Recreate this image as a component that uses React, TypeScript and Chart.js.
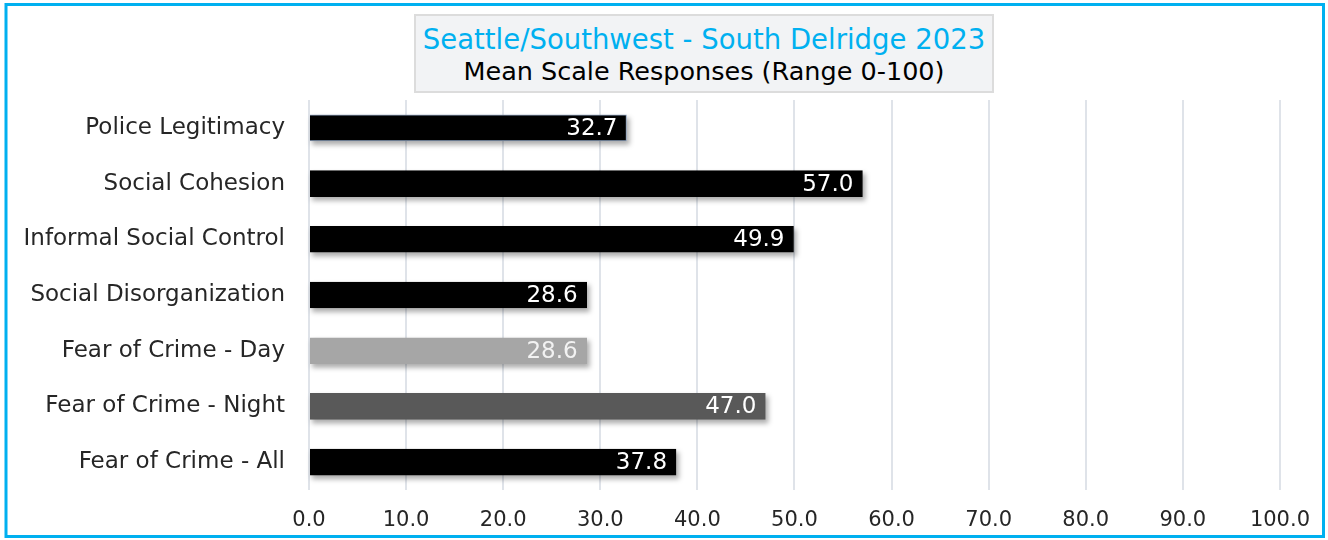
import React, { useEffect, useRef } from "react";
import { Chart, registerables } from "chart.js";

Chart.register(...registerables);

const categories = [
  "Police Legitimacy",
  "Social Cohesion",
  "Informal Social Control",
  "Social Disorganization",
  "Fear of Crime - Day",
  "Fear of Crime - Night",
  "Fear of Crime - All",
];
const values = [32.7, 57.0, 49.9, 28.6, 28.6, 47.0, 37.8];
const barColors = ["#000000", "#000000", "#000000", "#000000", "#A6A6A6", "#595959", "#000000"];
const borderColors = ["#8EA3BF", "#000000", "#000000", "#000000", "#A6A6A6", "#595959", "#000000"];
const labelColors = ["#FFFFFF", "#FFFFFF", "#FFFFFF", "#FFFFFF", "#F2F2F2", "#FFFFFF", "#FFFFFF"];
const titleLine1 = "Seattle/Southwest - South Delridge 2023";
const titleLine2 = "Mean Scale Responses (Range 0-100)";

const FONT = "'DejaVu Sans', sans-serif";

const framePlugin = {
  id: "frame",
  afterDraw(chart: any) {
    const ctx = chart.ctx;
    ctx.save();
    ctx.strokeStyle = "#00B0F0";
    ctx.lineWidth = 3;
    ctx.strokeRect(6, 4.5, 1317.5, 532);
    ctx.restore();
  },
};

const shadowPlugin = {
  id: "barShadow",
  beforeDatasetsDraw(chart: any) {
    const ctx = chart.ctx;
    const meta = chart.getDatasetMeta(0);
    ctx.save();
    ctx.filter = "blur(2.5px)";
    ctx.fillStyle = "rgba(0,0,0,0.32)";
    meta.data.forEach((bar: any) => {
      const h = bar.height;
      ctx.fillRect(bar.base + 2, bar.y - h / 2 + 3, bar.x - bar.base + 1, h + 1);
    });
    ctx.restore();
  },
};

const labelPlugin = {
  id: "valueLabels",
  afterDatasetsDraw(chart: any) {
    const ctx = chart.ctx;
    const meta = chart.getDatasetMeta(0);
    ctx.save();
    ctx.font = `23px ${FONT}`;
    ctx.textAlign = "right";
    ctx.textBaseline = "middle";
    meta.data.forEach((bar: any, i: number) => {
      ctx.fillStyle = labelColors[i];
      ctx.fillText(values[i].toFixed(1), bar.x - 9, bar.y + 1);
    });
    ctx.restore();
  },
};

export default function App() {
  const ref = useRef<HTMLCanvasElement>(null);
  useEffect(() => {
    document.body.style.margin = "0";
    const chart = new Chart(ref.current!, {
      type: "bar",
      data: {
        labels: categories,
        datasets: [
          {
            data: values,
            backgroundColor: barColors,
            borderColor: borderColors,
            borderWidth: 1,
            barThickness: 26,
          },
        ],
      },
      options: {
        indexAxis: "y",
        animation: false,
        responsive: false,
        layout: { padding: { top: 100, right: 48, bottom: 8, left: 0 } },
        plugins: { legend: { display: false }, tooltip: { enabled: false } },
        scales: {
          x: {
            min: 0,
            max: 100,
            afterFit(scale: any) {
              scale.height = 42;
            },
            ticks: {
              stepSize: 10,
              padding: 18,
              color: "#262626",
              font: { family: FONT, size: 21 },
              callback: (v: any) => Number(v).toFixed(1),
            },
            grid: { color: "#DFE3E9", lineWidth: 2, drawTicks: false },
            border: { display: false },
          },
          y: {
            afterFit(scale: any) {
              scale.width = 309;
            },
            ticks: {
              padding: 24,
              color: "#262626",
              font: { family: FONT, size: 23 },
            },
            grid: { display: false, drawTicks: false },
            border: { display: false },
          },
        },
      },
      plugins: [shadowPlugin, labelPlugin, framePlugin],
    });
    return () => chart.destroy();
  }, []);

  return (
    <div style={{ position: "relative", width: 1328, height: 540, background: "#fff", overflow: "hidden" }}>
      <canvas ref={ref} width={1328} height={540} style={{ position: "absolute", left: 0, top: 0 }} />
      <div
        style={{
          position: "absolute",
          left: 414,
          top: 14,
          width: 580,
          height: 79,
          background: "#F2F3F5",
          border: "2px solid #DCDCDC",
          boxSizing: "border-box",
          textAlign: "center",
          fontFamily: FONT,
        }}
      >
        <div style={{ color: "#00B0F0", fontSize: 27.5, lineHeight: "34px", marginTop: 6 }}>{titleLine1}</div>
        <div style={{ color: "#000000", fontSize: 25.5, lineHeight: "30px" }}>{titleLine2}</div>
      </div>
    </div>
  );
}
